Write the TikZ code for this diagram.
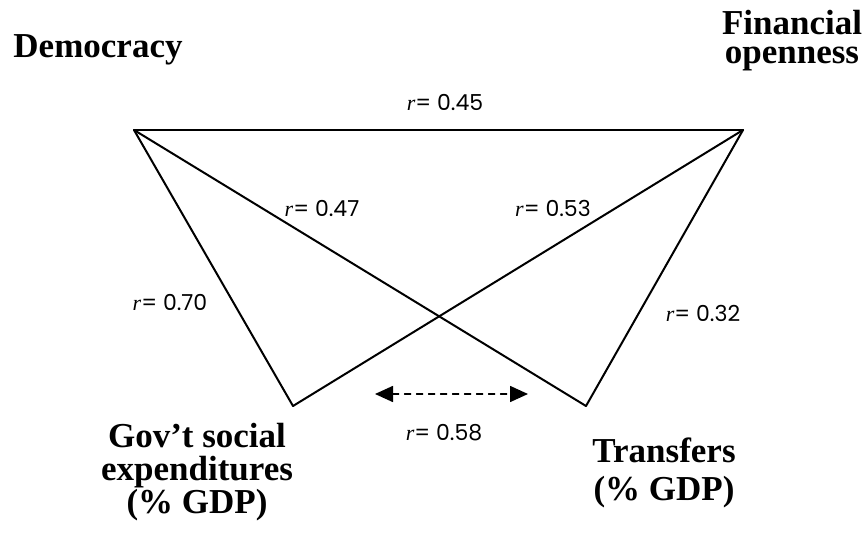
\documentclass[tikz,border=0pt]{standalone}
\usepackage{fontspec}
\setmainfont{Liberation Serif}
\newfontfamily\numfont{Poppins}
\usetikzlibrary{arrows.meta}

\newcommand{\rval}[1]{{\normalfont\itshape r}= #1}

\begin{document}
\begin{tikzpicture}[
			x=0.5pt,
			y=-0.5pt,
			line cap=round,
			line join=round,
			varname/.style={font=\fontsize{17.5}{16.5}\selectfont\bfseries, align=center, inner sep=0pt, anchor=base},
			corr/.style={font=\fontsize{11}{13}\selectfont\numfont, inner sep=0pt},
			link/.style={line width=1pt}
			]
			\useasboundingbox (0,0) rectangle (866,539);
			
			% corners of the diagram
			\coordinate (dem) at (134,130);
			\coordinate (fin) at (743,130);
			\coordinate (gov) at (293,406);
			\coordinate (tra) at (586,406);
			
			% base anchor sits on the last line
			\node[varname] (demtext) at (98,58) {Democracy};
			\node[varname, font=\fontsize{17.5}{14.5}\selectfont\bfseries] (fintext) at (792,64) {Financial\\openness};
			\node[varname] (govtext) at (197,513) {Gov't social\\expenditures\\(\% GDP)};
			\node[varname, font=\fontsize{17.5}{19}\selectfont\bfseries] (tratext) at (664,500) {Transfers\\(\% GDP)};
			
			\draw[link] (dem) -- (fin);
			\draw[link] (dem) -- (gov);
			\draw[link] (dem) -- (tra);
			\draw[link] (fin) -- (gov);
			\draw[link] (fin) -- (tra);
			
			% dashed link between the two outcomes
			\coordinate (al) at (375,394);
			\coordinate (ar) at (528,394);
			\draw[line width=0.8pt, dashed, {Triangle[length=9pt,width=8pt]}-{Triangle[length=9pt,width=8pt]}] (al) -- (ar);
			
			\node[corr] (r45) at (445,102) {\rval{0.45}};
			\node[corr] (r47) at (322,208) {\rval{0.47}};
			\node[corr] (r53) at (553,208) {\rval{0.53}};
			\node[corr] (r70) at (170,302) {\rval{0.70}};
			\node[corr] (r32) at (703,313) {\rval{0.32}};
			\node[corr] (r58) at (444,433) {\rval{0.58}};
		\end{tikzpicture}
\end{document}
